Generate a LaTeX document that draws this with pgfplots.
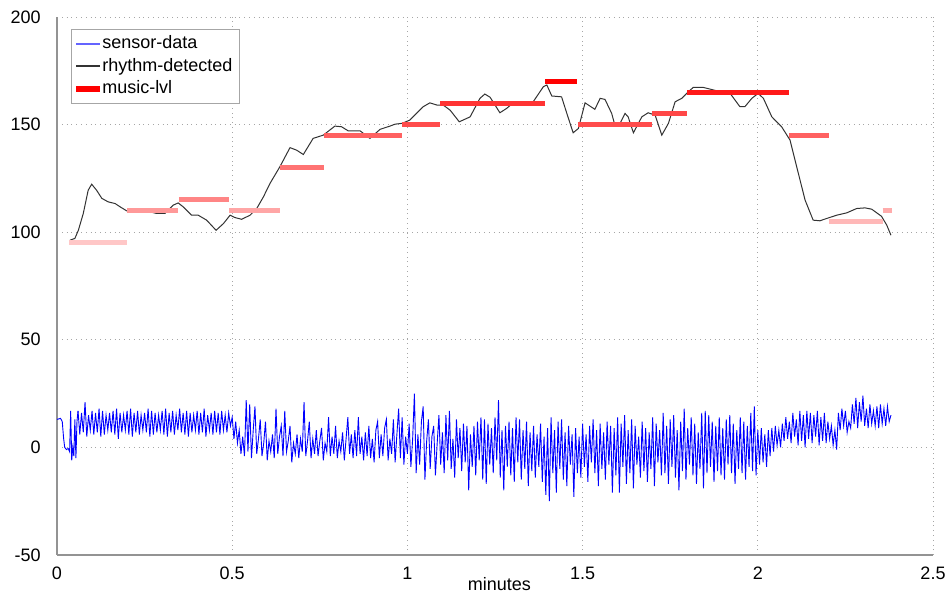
\documentclass[border=0pt]{standalone}
\usepackage{pgfplots}
\pgfplotsset{compat=1.18}
\usepackage{fontspec}
\setmainfont{Liberation Sans}
\definecolor{legblue}{RGB}{100,100,255}
\begin{document}
\fontsize{9}{11}\selectfont
\begin{tikzpicture}
\useasboundingbox (-28.5pt,-20pt) rectangle (446pt,277.5pt);
\begin{axis}[
  at={(0pt,0pt)}, anchor=south west,
  scale only axis, width=438pt, height=269pt,
  xmin=0, xmax=2.5, ymin=-50, ymax=200,
  xtick={0,0.5,1,1.5,2,2.5}, ytick={-50,0,50,100,150,200},
  axis x line*=bottom, axis y line*=left,
  axis line style={-, draw=gray!85, line width=0.6pt},
  every inner x axis line/.append style={-},
  every inner y axis line/.append style={-},
  every outer x axis line/.append style={-},
  every outer y axis line/.append style={-},
  major tick length=0pt,
  grid=major, major grid style={dotted, gray!70, line width=0.5pt},
  /pgf/number format/assume math mode=true,
  ticklabel style={font=\fontsize{9}{11}\selectfont},
  yticklabel style={xshift=-5pt},
  xticklabel style={yshift=-3pt},
  xlabel={minutes},
  xlabel style={at={(axis description cs:0.505,0)}, anchor=north, yshift=-8pt, font=\fontsize{9}{11}\selectfont},
  legend cell align=left,
  legend style={at={(axis description cs:0.0156,0.977)}, anchor=north west,
    draw=gray!70, fill=white, font=\fontsize{9}{11}\selectfont,
    inner xsep=2.5pt, inner ysep=1.5pt, row sep=0.6pt,
    nodes={inner sep=1.2pt, text height=6.6pt, text depth=1.8pt}},
]
% sensor data
\addplot[blue, line width=0.45pt, forget plot] coordinates {
(0,13) (0.01,13.5) (0.015,12) (0.019,4) (0.022,0) (0.027,-1) (0.032,-0.5) (0.036,-2)
(0.039,17) (0.042,-6) (0.045,0) (0.048,-4) (0.051,13) (0.054,-5) (0.057,12) (0.06,17)};
\addplot[blue, line width=0.45pt, forget plot] table[row sep=\\, header=false, x expr=0.06+0.005*\coordindex, y index=0] {
17\\6\\16\\7\\21\\5\\15\\8\\17\\6\\
16\\7\\18\\5\\17\\6\\15\\8\\16\\7\\
17\\6\\18\\4\\16\\7\\15\\8\\17\\6\\
18\\5\\16\\7\\17\\6\\15\\8\\16\\7\\
18\\5\\17\\6\\16\\7\\15\\8\\17\\6\\
18\\5\\16\\7\\17\\6\\15\\8\\18\\7\\
16\\6\\17\\5\\16\\7\\15\\8\\17\\6\\
16\\7\\18\\5\\15\\8\\16\\6\\17\\7\\
16\\6\\17\\8\\15\\7\\16\\10\\
14\\4\\12\\2\\8\\-3\\5\\-4\\22\\-2\\
20\\-5\\8\\19\\-3\\4\\13\\-4\\2\\12\\
-6\\3\\-2\\6\\-5\\18\\-3\\5\\10\\-4\\
17\\-2\\3\\10\\-7\\2\\-3\\6\\-5\\4\\
-2\\21\\-4\\3\\12\\-5\\4\\-3\\8\\-4\\
3\\9\\-6\\2\\-2\\14\\-4\\5\\-3\\10\\
-5\\3\\-2\\7\\-6\\4\\14\\-3\\6\\-5\\
8\\-4\\14\\-3\\5\\-6\\7\\-4\\10\\-5\\
4\\-7\\8\\12\\-5\\6\\-4\\9\\13\\-6\\
4\\-3\\13\\-7\\6\\18\\-5\\14\\-8\\5\\
-3\\11\\-9\\4\\25\\-12\\6\\-8\\12\\19\\
-15\\3\\13\\-10\\5\\10\\-13\\2\\15\\-8\\
7\\-12\\15\\-6\\17\\-10\\4\\-14\\13\\-5\\
9\\-11\\11\\-7\\10\\-20\\6\\-9\\10\\-13\\
12\\-6\\14\\-15\\13\\-17\\11\\-8\\9\\-12\\
14\\-6\\22\\-14\\8\\-20\\10\\-9\\12\\-13\\
9\\-16\\14\\-7\\13\\-15\\8\\-10\\12\\-18\\
7\\-11\\10\\-14\\6\\-9\\11\\-16\\5\\-22\\
9\\-25\\14\\-12\\8\\-21\\12\\-10\\13\\-15\\
7\\-18\\10\\-8\\6\\-23\\9\\-12\\5\\-14\\
11\\-9\\6\\-16\\10\\-7\\13\\-12\\8\\-18\\
11\\-10\\7\\-15\\12\\-8\\10\\-21\\9\\-13\\
14\\-21\\11\\-9\\15\\-17\\8\\-12\\13\\-19\\
10\\-8\\5\\-14\\12\\-11\\9\\-16\\7\\-10\\
14\\-18\\11\\-7\\8\\-13\\16\\-12\\10\\-17\\
13\\-9\\15\\-14\\8\\-20\\12\\-11\\18\\-15\\
9\\-8\\14\\-13\\11\\-17\\7\\-10\\16\\-19\\
17\\-12\\15\\-9\\12\\-16\\10\\-11\\14\\-13\\
9\\-15\\13\\-8\\15\\-12\\11\\-17\\8\\-10\\
14\\-12\\12\\-15\\10\\-9\\16\\-11\\19\\-13\\
8\\-8\\9\\-7\\6\\-9\\8\\-4\\9\\-2\\
10\\1\\8\\0\\11\\3\\14\\4\\12\\2\\
16\\5\\13\\1\\17\\3\\15\\0\\17\\4\\
16\\2\\15\\5\\17\\1\\14\\3\\16\\2\\
12\\4\\10\\1\\8\\-1\\
16\\8\\18\\10\\17\\7\\12\\9\\20\\11\\
23\\9\\21\\12\\24\\10\\18\\9\\20\\11\\
17\\10\\19\\9\\20\\11\\18\\10\\19\\12\\
15\\
};
% rhythm detected
\addplot[black!80, line width=0.5pt, forget plot] coordinates {
(0.037,96.3) (0.051,97.1) (0.061,100.9) (0.075,108.7) (0.089,119.5) (0.099,122.3)
(0.113,119.5) (0.128,115.7) (0.146,114.1) (0.166,113.3) (0.180,111.8) (0.199,109.9)
(0.227,109.9) (0.256,109.9) (0.284,108.7) (0.308,108.7) (0.332,112.6) (0.346,113.6)
(0.360,111.8) (0.384,107.9) (0.403,107.9) (0.427,105.6) (0.454,100.9) (0.475,104.0)
(0.494,107.9) (0.508,106.8) (0.527,106.0) (0.551,107.9) (0.570,111.0) (0.589,116.4)
(0.608,122.7) (0.636,130.4) (0.665,139.3) (0.684,138.1) (0.703,136.1) (0.731,143.6)
(0.760,145.1) (0.793,149.3) (0.812,149.0) (0.831,147.1) (0.865,147.1) (0.893,143.6)
(0.922,147.8) (0.950,149.3) (0.965,150.2) (0.985,150.6) (1.007,152.1) (1.045,158.3)
(1.064,160.1) (1.084,159.1) (1.102,159.1) (1.122,156.7) (1.148,151.3) (1.179,153.6)
(1.207,162.2) (1.221,164.2) (1.236,162.7) (1.264,155.5) (1.283,157.5) (1.302,160.1)
(1.331,159.9) (1.359,160.6) (1.388,167.6) (1.398,168.4) (1.412,163.3) (1.440,162.9)
(1.455,155.2) (1.473,146.2) (1.488,148.2) (1.507,160.1) (1.535,157.1) (1.550,162.2)
(1.564,161.7) (1.583,155.2) (1.592,149.8) (1.607,150.6) (1.621,155.2) (1.630,153.6)
(1.645,146.2) (1.669,153.6) (1.687,155.5) (1.707,154.4) (1.726,145.1) (1.745,150.6)
(1.764,160.6) (1.783,162.2) (1.802,165.3) (1.816,167.3) (1.844,167.3) (1.883,165.7)
(1.921,164.5) (1.949,158.3) (1.963,158.3) (1.983,162.2) (2.001,164.5) (2.016,162.2)
(2.040,153.6) (2.068,149.0) (2.092,142.8) (2.111,130.4) (2.135,114.9) (2.158,105.6)
(2.177,105.3) (2.197,106.4) (2.225,107.9) (2.254,109.0) (2.282,111.0) (2.306,111.3)
(2.325,110.7) (2.353,107.4) (2.368,103.3) (2.380,98.6)};
% music level segments
\addplot[red!22, line width=2.5pt, forget plot] coordinates {(0.034,95) (0.200,95)};
\addplot[red!40, line width=2.5pt, forget plot] coordinates {(0.200,110) (0.345,110)};
\addplot[red!48, line width=2.5pt, forget plot] coordinates {(0.348,115) (0.491,115)};
\addplot[red!35, line width=2.5pt, forget plot] coordinates {(0.491,110) (0.636,110)};
\addplot[red!55, line width=2.5pt, forget plot] coordinates {(0.636,130) (0.762,130)};
\addplot[red!62, line width=2.5pt, forget plot] coordinates {(0.762,145) (0.985,145)};
\addplot[red!70, line width=2.5pt, forget plot] coordinates {(0.985,150) (1.093,150)};
\addplot[red!80, line width=2.5pt, forget plot] coordinates {(1.093,160) (1.393,160)};
\addplot[red, line width=2.5pt, forget plot] coordinates {(1.393,170) (1.485,170)};
\addplot[red!70, line width=2.5pt, forget plot] coordinates {(1.486,150) (1.699,150)};
\addplot[red!72, line width=2.5pt, forget plot] coordinates {(1.699,155) (1.799,155)};
\addplot[red!90, line width=2.5pt, forget plot] coordinates {(1.799,165) (2.090,165)};
\addplot[red!62, line width=2.5pt, forget plot] coordinates {(2.090,145) (2.202,145)};
\addplot[red!28, line width=2.5pt, forget plot] coordinates {(2.202,105) (2.356,105)};
\addplot[red!33, line width=2.5pt, forget plot] coordinates {(2.356,110) (2.384,110)};
\addlegendimage{legend image code/.code={\fill[legblue] (0pt,-0.3pt) rectangle (11.5pt,0.3pt);}}
\addlegendentry{sensor-data}
\addlegendimage{legend image code/.code={\fill[black!80] (0pt,-0.25pt) rectangle (11.5pt,0.25pt);}}
\addlegendentry{rhythm-detected\hspace{6pt}}
\addlegendimage{legend image code/.code={\fill[red] (0pt,-1.25pt) rectangle (11.5pt,1.25pt);}}
\addlegendentry{music-lvl}
\end{axis}
\end{tikzpicture}
\end{document}
